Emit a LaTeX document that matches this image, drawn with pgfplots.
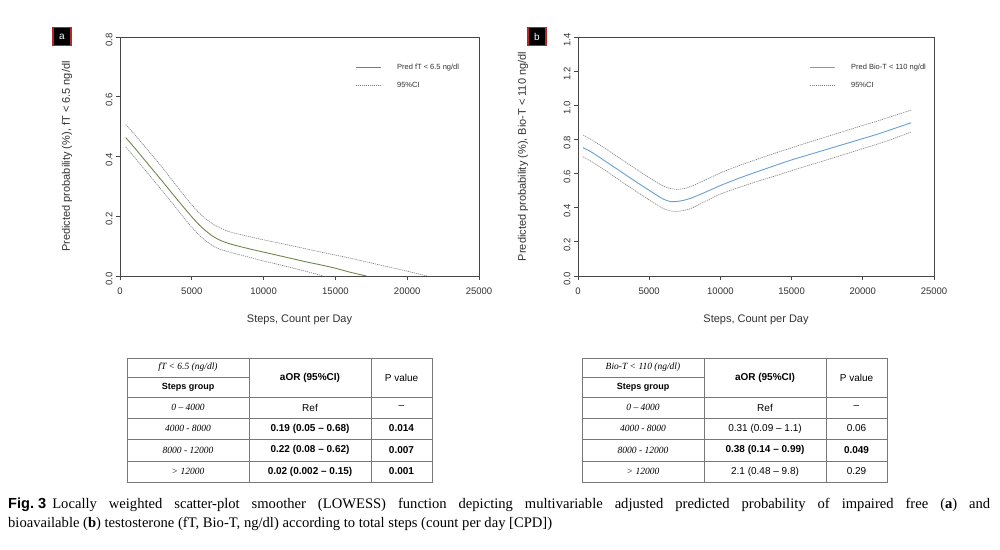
\documentclass[border=0pt]{standalone}
\usepackage{pgfplots}
\pgfplotsset{compat=1.18}
\usepackage{fontspec}
\setmainfont{Liberation Sans}
\newfontfamily\serif{Liberation Serif}
\definecolor{axisgray}{RGB}{70,70,70}
\definecolor{labgray}{RGB}{50,50,50}
\definecolor{olivel}{RGB}{115,135,75}
\definecolor{bluel}{RGB}{105,160,210}
\definecolor{cigray}{RGB}{130,130,130}
\definecolor{tabgray}{RGB}{120,120,120}
\definecolor{boxred}{RGB}{180,40,40}
\pgfplotsset{
  ci/.style={cigray, line width=0.6pt, dash pattern=on 1.2pt off 0.8pt},
  myax/.style={
    anchor=south west, scale only axis, height=239pt,
    xmin=0, xmax=25000, ymin=0, scaled x ticks=false, scaled y ticks=false,
    xtick={0,5000,10000,15000,20000,25000},
    xticklabels={0,5000,10000,15000,20000,25000},
    tick pos=left, tick align=outside, major tick length=4pt,
    axis line style={draw=axisgray, line width=0.9pt},
    tick style={draw=axisgray, line width=0.8pt},
    /pgf/number format/assume math mode=true,
    ticklabel style={font=\fontsize{9.5}{11}\selectfont, text=labgray},
    xticklabel style={yshift=-4pt},
    yticklabel style={rotate=90, anchor=south, xshift=-3pt},
    xlabel={Steps, Count per Day},
    label style={font=\fontsize{11}{13}\selectfont, text=labgray},
    xlabel style={at={(axis description cs:0.5,-0.184)}, anchor=center},
    legend style={draw=none, fill=none, font=\fontsize{7.5}{9}\selectfont, text=labgray,
      row sep=7pt, anchor=north west, inner sep=0pt,
      /tikz/every odd column/.append style={column sep=14pt}},
    legend cell align=left,
  }
}
\begin{document}
\begin{tikzpicture}[x=1pt,y=1pt]
\path[use as bounding box, fill=white] (0,0) rectangle (1000,549);

% ---------- panel a ----------
\begin{axis}[myax, width=359pt, at={(120pt,273pt)}, ymax=0.8,
  ytick={0,0.2,0.4,0.6,0.8}, yticklabels={0.0,0.2,0.4,0.6,0.8},
  ylabel={Predicted probability (\%), fT < 6.5 ng/dl},
  ylabel style={at={(axis description cs:-0.1476,0.5)}, anchor=center},
  legend image code/.code={\draw[#1] (0pt,0pt) -- (25pt,0pt);},
  legend style={at={(axis description cs:0.6546,0.8966)}}]
\addplot[olivel, line width=0.9pt, smooth] coordinates {
(400,0.463) (1000,0.430) (2000,0.372) (3000,0.314) (4000,0.255) (5000,0.198)
(5500,0.172) (6000,0.150) (6500,0.132) (7000,0.119) (7500,0.110) (8000,0.103)
(9000,0.091) (10000,0.080) (11000,0.069) (12000,0.058) (13000,0.047) (14000,0.037)
(15000,0.026) (16000,0.013) (17150,0.000)};
\addlegendentry{Pred fT < 6.5 ng/dl}
\addplot[ci, smooth] coordinates {
(400,0.507) (1000,0.475) (2000,0.418) (3000,0.360) (4000,0.298) (5000,0.238)
(5500,0.212) (6000,0.190) (6500,0.173) (7000,0.160) (7500,0.150) (8000,0.143)
(9000,0.132) (10000,0.121) (12000,0.101) (14000,0.080) (15000,0.070) (16000,0.060)
(18000,0.038) (20000,0.016) (21400,0.000)};
\addlegendentry{95\%CI}
\addplot[ci, smooth, forget plot] coordinates {
(400,0.432) (1000,0.398) (2000,0.340) (3000,0.282) (4000,0.222) (5000,0.163)
(5500,0.138) (6000,0.117) (6500,0.100) (7000,0.089) (7500,0.082) (8000,0.075)
(9000,0.063) (10000,0.050) (11000,0.039) (12000,0.027) (13000,0.015) (14000,0.002)
(14100,0.000)};
\end{axis}

% ---------- panel b ----------
\begin{axis}[myax, width=356pt, at={(578pt,273pt)}, ymax=1.4,
  ytick={0,0.2,0.4,0.6,0.8,1.0,1.2,1.4}, yticklabels={0.0,0.2,0.4,0.6,0.8,1.0,1.2,1.4},
  ylabel={Predicted probability (\%), Bio-T < 110 ng/dl},
  ylabel style={at={(axis description cs:-0.1545,0.5)}, anchor=center},
  legend image code/.code={\draw[#1] (0pt,0pt) -- (25pt,0pt);},
  legend style={at={(axis description cs:0.649,0.8966)}}]
\addplot[bluel, line width=0.9pt, smooth] coordinates {
(350,0.752) (1000,0.723) (2000,0.668) (3000,0.612) (4000,0.556) (5000,0.502)
(5500,0.475) (6000,0.450) (6500,0.436) (7000,0.437) (7500,0.445) (8000,0.458)
(9000,0.493) (10000,0.530) (11000,0.563) (12000,0.594) (13000,0.623) (14000,0.652)
(15000,0.680) (16000,0.705) (17000,0.730) (18000,0.755) (19000,0.780) (20000,0.805)
(21000,0.830) (22000,0.858) (23400,0.898)};
\addlegendentry{Pred Bio-T < 110 ng/dl}
\addplot[ci, smooth] coordinates {
(350,0.826) (1000,0.796) (2000,0.742) (3000,0.686) (4000,0.630) (5000,0.576)
(5500,0.550) (6000,0.527) (6500,0.512) (7000,0.508) (7500,0.513) (8000,0.527)
(9000,0.565) (10000,0.604) (11000,0.637) (12000,0.667) (13000,0.696) (14000,0.724)
(15000,0.751) (16000,0.778) (17000,0.804) (18000,0.830) (19000,0.856) (20000,0.882)
(21000,0.907) (22000,0.934) (23400,0.972)};
\addlegendentry{95\%CI}
\addplot[ci, smooth, forget plot] coordinates {
(350,0.698) (1000,0.668) (2000,0.614) (3000,0.556) (4000,0.500) (5000,0.446)
(5500,0.419) (6000,0.395) (6500,0.381) (7000,0.379) (7500,0.385) (8000,0.398)
(9000,0.440) (10000,0.480) (11000,0.510) (12000,0.538) (13000,0.565) (14000,0.590)
(15000,0.617) (16000,0.643) (17000,0.668) (18000,0.694) (19000,0.720) (20000,0.746)
(21000,0.772) (22000,0.800) (23400,0.844)};
\end{axis}

% ---------- panel letters ----------
\node[fill=black, draw=boxred, line width=1.3pt, minimum size=18pt, inner sep=0pt,
  text=white, font=\fontsize{10}{12}\selectfont] at (62,512.5) {a};
\node[fill=black, draw=boxred, line width=1.3pt, minimum size=18pt, inner sep=0pt,
  text=white, font=\fontsize{10}{12}\selectfont] at (537,512.5) {b};

% ---------- tables ----------
\newcommand\tablegrid{%
  \draw[tabgray, line width=0.7pt] (0,67) rectangle (305,191);
  \draw[tabgray, line width=0.7pt] (122,67) -- (122,191) (244,67) -- (244,191);
  \draw[tabgray, line width=0.7pt] (0,172) -- (122,172);
  \foreach \yy in {152,131,110,88} \draw[tabgray, line width=0.7pt] (0,\yy) -- (305,\yy);
}
\newcommand\tit[2]{\node[font=\serif\itshape\fontsize{9.5}{11}\selectfont] at (61,#1) {#2};}
\newcommand\tcell[3]{\node[font=\fontsize{10}{12}\selectfont] at (#1,#2) {#3};}

\begin{scope}[xshift=127pt]
\tablegrid
\tit{181.5}{fT < 6.5 (ng/dl)}
\node[font=\bfseries\fontsize{9}{11}\selectfont] at (61,162) {Steps group};
\tcell{183}{171.5}{\textbf{aOR (95\%CI)}}
\tcell{274.5}{171.5}{P value}
\tit{141.5}{0 – 4000}
\tit{120.5}{4000 - 8000}
\tit{99}{8000 - 12000}
\tit{77.5}{> 12000}
\tcell{183}{141.5}{Ref}
\tcell{274.5}{141.5}{–}
\tcell{183}{120.5}{\textbf{0.19 (0.05 – 0.68)}}
\tcell{274.5}{120.5}{\textbf{0.014}}
\tcell{183}{99}{\textbf{0.22 (0.08 – 0.62)}}
\tcell{274.5}{99}{\textbf{0.007}}
\tcell{183}{77.5}{\textbf{0.02 (0.002 – 0.15)}}
\tcell{274.5}{77.5}{\textbf{0.001}}
\end{scope}

\begin{scope}[xshift=582pt]
\tablegrid
\tit{181.5}{Bio-T < 110 (ng/dl)}
\node[font=\bfseries\fontsize{9}{11}\selectfont] at (61,162) {Steps group};
\tcell{183}{171.5}{\textbf{aOR (95\%CI)}}
\tcell{274.5}{171.5}{P value}
\tit{141.5}{0 – 4000}
\tit{120.5}{4000 - 8000}
\tit{99}{8000 - 12000}
\tit{77.5}{> 12000}
\tcell{183}{141.5}{Ref}
\tcell{274.5}{141.5}{–}
\tcell{183}{120.5}{0.31 (0.09 – 1.1)}
\tcell{274.5}{120.5}{0.06}
\tcell{183}{99}{\textbf{0.38 (0.14 – 0.99)}}
\tcell{274.5}{99}{\textbf{0.049}}
\tcell{183}{77.5}{2.1 (0.48 – 9.8)}
\tcell{274.5}{77.5}{0.29}
\end{scope}

% ---------- caption ----------
\node[anchor=base west, inner sep=0pt, font=\fontsize{14.6}{17}\selectfont] at (8,40.5)
  {\makebox[982pt][s]{\mbox{\textbf{Fig.\ 3}}\hspace{6pt}\serif Locally weighted scatter-plot smoother (LOWESS) function depicting multivariable adjusted predicted probability of impaired free (\textbf{a}) and}};
\node[anchor=base west, inner sep=0pt, font=\serif\fontsize{14.6}{17}\selectfont] at (8,22)
  {bioavailable (\textbf{b}) testosterone (fT, Bio-T, ng/dl) according to total steps (count per day [CPD])};
\end{tikzpicture}
\end{document}
